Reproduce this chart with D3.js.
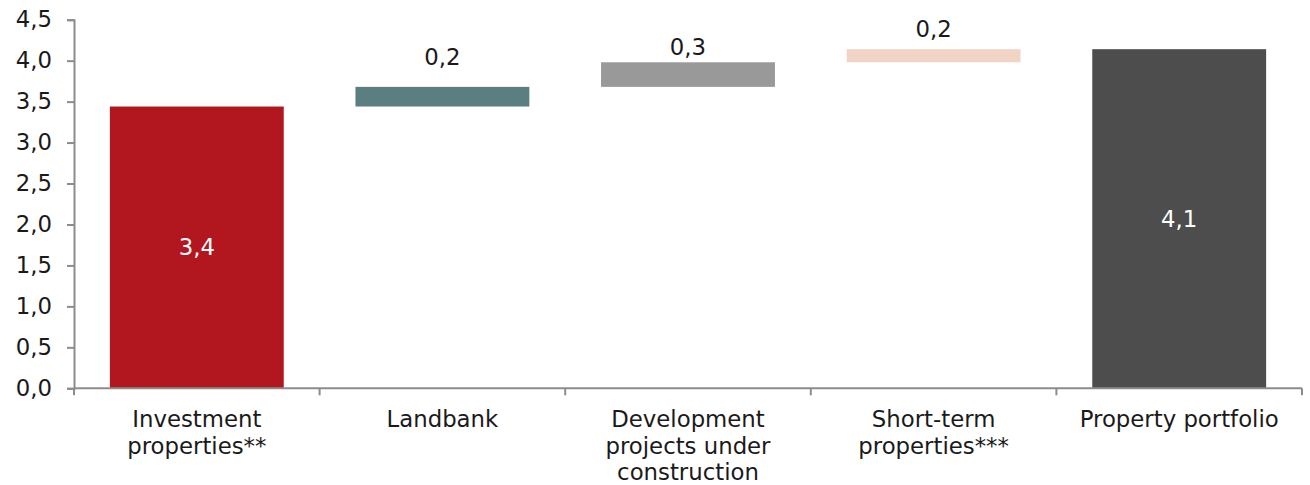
<!DOCTYPE html>
<html>
<head>
<meta charset="utf-8">
<script src="https://cdn.jsdelivr.net/npm/d3@7"></script>
<style>
  body { margin: 0; background: #fff; }
  svg text { font-family: "DejaVu Sans", Verdana, sans-serif; }
</style>
</head>
<body>
<div id="chart"></div>
<script>
// Waterfall: property portfolio build-up (bn)
const categories = ["Investment properties**", "Landbank", "Development projects under construction", "Short-term properties***", "Property portfolio"];
const categoryLines = [
  ["Investment", "properties**"],
  ["Landbank"],
  ["Development", "projects under", "construction"],
  ["Short-term", "properties***"],
  ["Property portfolio"]
];
const values = [3.44, 0.24, 0.30, 0.16, 4.14];
const isTotal = [true, false, false, false, true];
const yTicks = [0, 0.5, 1, 1.5, 2, 2.5, 3, 3.5, 4, 4.5];

const colors = ["#b2161f", "#5b7f80", "#999999", "#f2d4c7", "#4d4d4d"];
// how far the outside labels sit above their bar (px)
const labelLift = [0, 22, 7, 12, 0];

const width = 1310;
const height = 485;
const margin = { top: 19.7, right: 8, bottom: 96.7, left: 74 };
const fontSize = "22.8px";

const locale = d3.formatLocale({ decimal: ",", thousands: ".", grouping: [3], currency: ["", ""] });
const fmt = locale.format(".1f");

// running base for floating bars
let running = 0;
const bars = categories.map((c, i) => {
  let start, end;
  if (isTotal[i] && i > 0) { start = 0; end = values[i]; }
  else { start = running; end = running + values[i]; running = end; }
  return { category: c, value: values[i], start, end, i };
});

const svg = d3.select("#chart")
  .append("svg")
  .attr("width", width)
  .attr("height", height);

const x = d3.scaleBand()
  .domain(categories)
  .range([margin.left, width - margin.right])
  .padding(0);

const y = d3.scaleLinear()
  .domain([0, 4.5])
  .range([height - margin.bottom, margin.top]);

const barW = x.bandwidth() * 0.708;

// bars
svg.selectAll(".bar")
  .data(bars)
  .enter()
  .append("rect")
  .attr("x", d => x(d.category) + (x.bandwidth() - barW) / 2)
  .attr("y", d => y(d.end))
  .attr("width", barW)
  .attr("height", d => y(d.start) - y(d.end))
  .attr("fill", d => colors[d.i]);

// y axis
const yAxis = svg.append("g")
  .attr("transform", `translate(${margin.left}, 0)`)
  .call(d3.axisLeft(y).tickValues(yTicks).tickFormat(fmt).tickSize(7).tickPadding(15));

// x axis, ticks on category boundaries
const xAxis = svg.append("g")
  .attr("transform", `translate(0, ${y(0)})`);
xAxis.append("line")
  .attr("x1", margin.left)
  .attr("x2", x.range()[1])
  .attr("stroke", "#8c8c8c")
  .attr("stroke-width", 2);
xAxis.selectAll(".xtick")
  .data(d3.range(categories.length + 1))
  .enter()
  .append("line")
  .attr("x1", i => margin.left + i * x.step())
  .attr("x2", i => margin.left + i * x.step())
  .attr("y1", 0)
  .attr("y2", 7)
  .attr("stroke", "#8c8c8c")
  .attr("stroke-width", 2);

yAxis.select(".domain").attr("stroke", "#8c8c8c").attr("stroke-width", 2);
yAxis.selectAll(".tick line").attr("stroke", "#8c8c8c").attr("stroke-width", 2);
yAxis.selectAll(".tick text")
  .attr("fill", "#1a1a1a")
  .style("font-size", fontSize);

// category labels
const catText = svg.selectAll(".cat")
  .data(categoryLines)
  .enter()
  .append("text")
  .attr("text-anchor", "middle")
  .attr("fill", "#1a1a1a")
  .style("font-size", fontSize);
catText.each(function(lines, i) {
  d3.select(this).selectAll("tspan")
    .data(lines)
    .enter()
    .append("tspan")
    .attr("x", x(categories[i]) + x.bandwidth() / 2)
    .attr("y", (d, k) => y(0) + 39 + k * 26.5)
    .text(d => d);
});

// value labels
svg.selectAll(".val")
  .data(bars)
  .enter()
  .append("text")
  .attr("text-anchor", "middle")
  .attr("x", d => x(d.category) + x.bandwidth() / 2)
  .attr("y", d => isTotal[d.i] ? (y(d.start) + y(d.end)) / 2 + 8 : y(d.end) - labelLift[d.i])
  .attr("fill", d => isTotal[d.i] ? "#ffffff" : "#1a1a1a")
  .style("font-size", fontSize)
  .text(d => fmt(d.value));
</script>
</body>
</html>
